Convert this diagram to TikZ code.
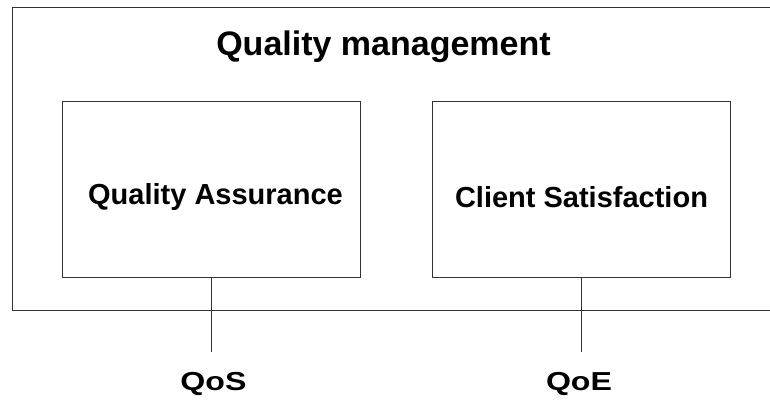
\documentclass[tikz,border=0pt]{standalone}
\usepackage{graphicx}
\usepackage{fontspec}
\setmainfont{Liberation Sans}
\usepackage{tikz}
\usetikzlibrary{positioning}

\begin{document}
\begin{tikzpicture}[x=1pt,y=-1pt]
\clip (0,0) rectangle (770,399);

\def\bw{298pt}
\def\bh{175.6pt}
\tikzstyle{frame} = [draw=black!80, line width=1.2pt, rectangle, inner sep=0pt];
\tikzstyle{block} = [frame, minimum width=\bw, minimum height=\bh];
\tikzstyle{plain} = [draw=none, fill=none, inner sep=0pt, anchor=base, font=\bfseries];
\tikzstyle{link} = [draw=black!80, line width=1.2pt];

% outer frame, runs off the right edge
\node[frame, minimum width=777.3pt, minimum height=303.4pt] (qm) at (401.35,159) {};
\node[plain, font=\bfseries\fontsize{34}{40}\selectfont] (qmText) at (383.5,55) {Quality management};

% the two inner boxes
\node[block] (qa) at (211.85,189.5) {};
\node[block] (cs) at (581.7,189.5) {};
\node[plain, font=\bfseries\fontsize{29}{34}\selectfont] (qaText) at (215.5,204) {Quality Assurance};
\node[plain, font=\bfseries\fontsize{29}{34}\selectfont] (csText) at (581.5,207) {Client Satisfaction};

% measures below
\node[plain, font=\bfseries\fontsize{26}{30}\selectfont] (qos) at (213.5,390) {\scalebox{1.235}[1]{QoS}};
\node[plain, font=\bfseries\fontsize{26}{30}\selectfont] (qoe) at (579,390) {\scalebox{1.235}[1]{QoE}};

\draw[link, shorten >=20pt] (qa.south) -- (qa.south |- qos.north);
\draw[link, shorten >=20pt] (cs.south) -- (cs.south |- qoe.north);

\end{tikzpicture}
\end{document}
